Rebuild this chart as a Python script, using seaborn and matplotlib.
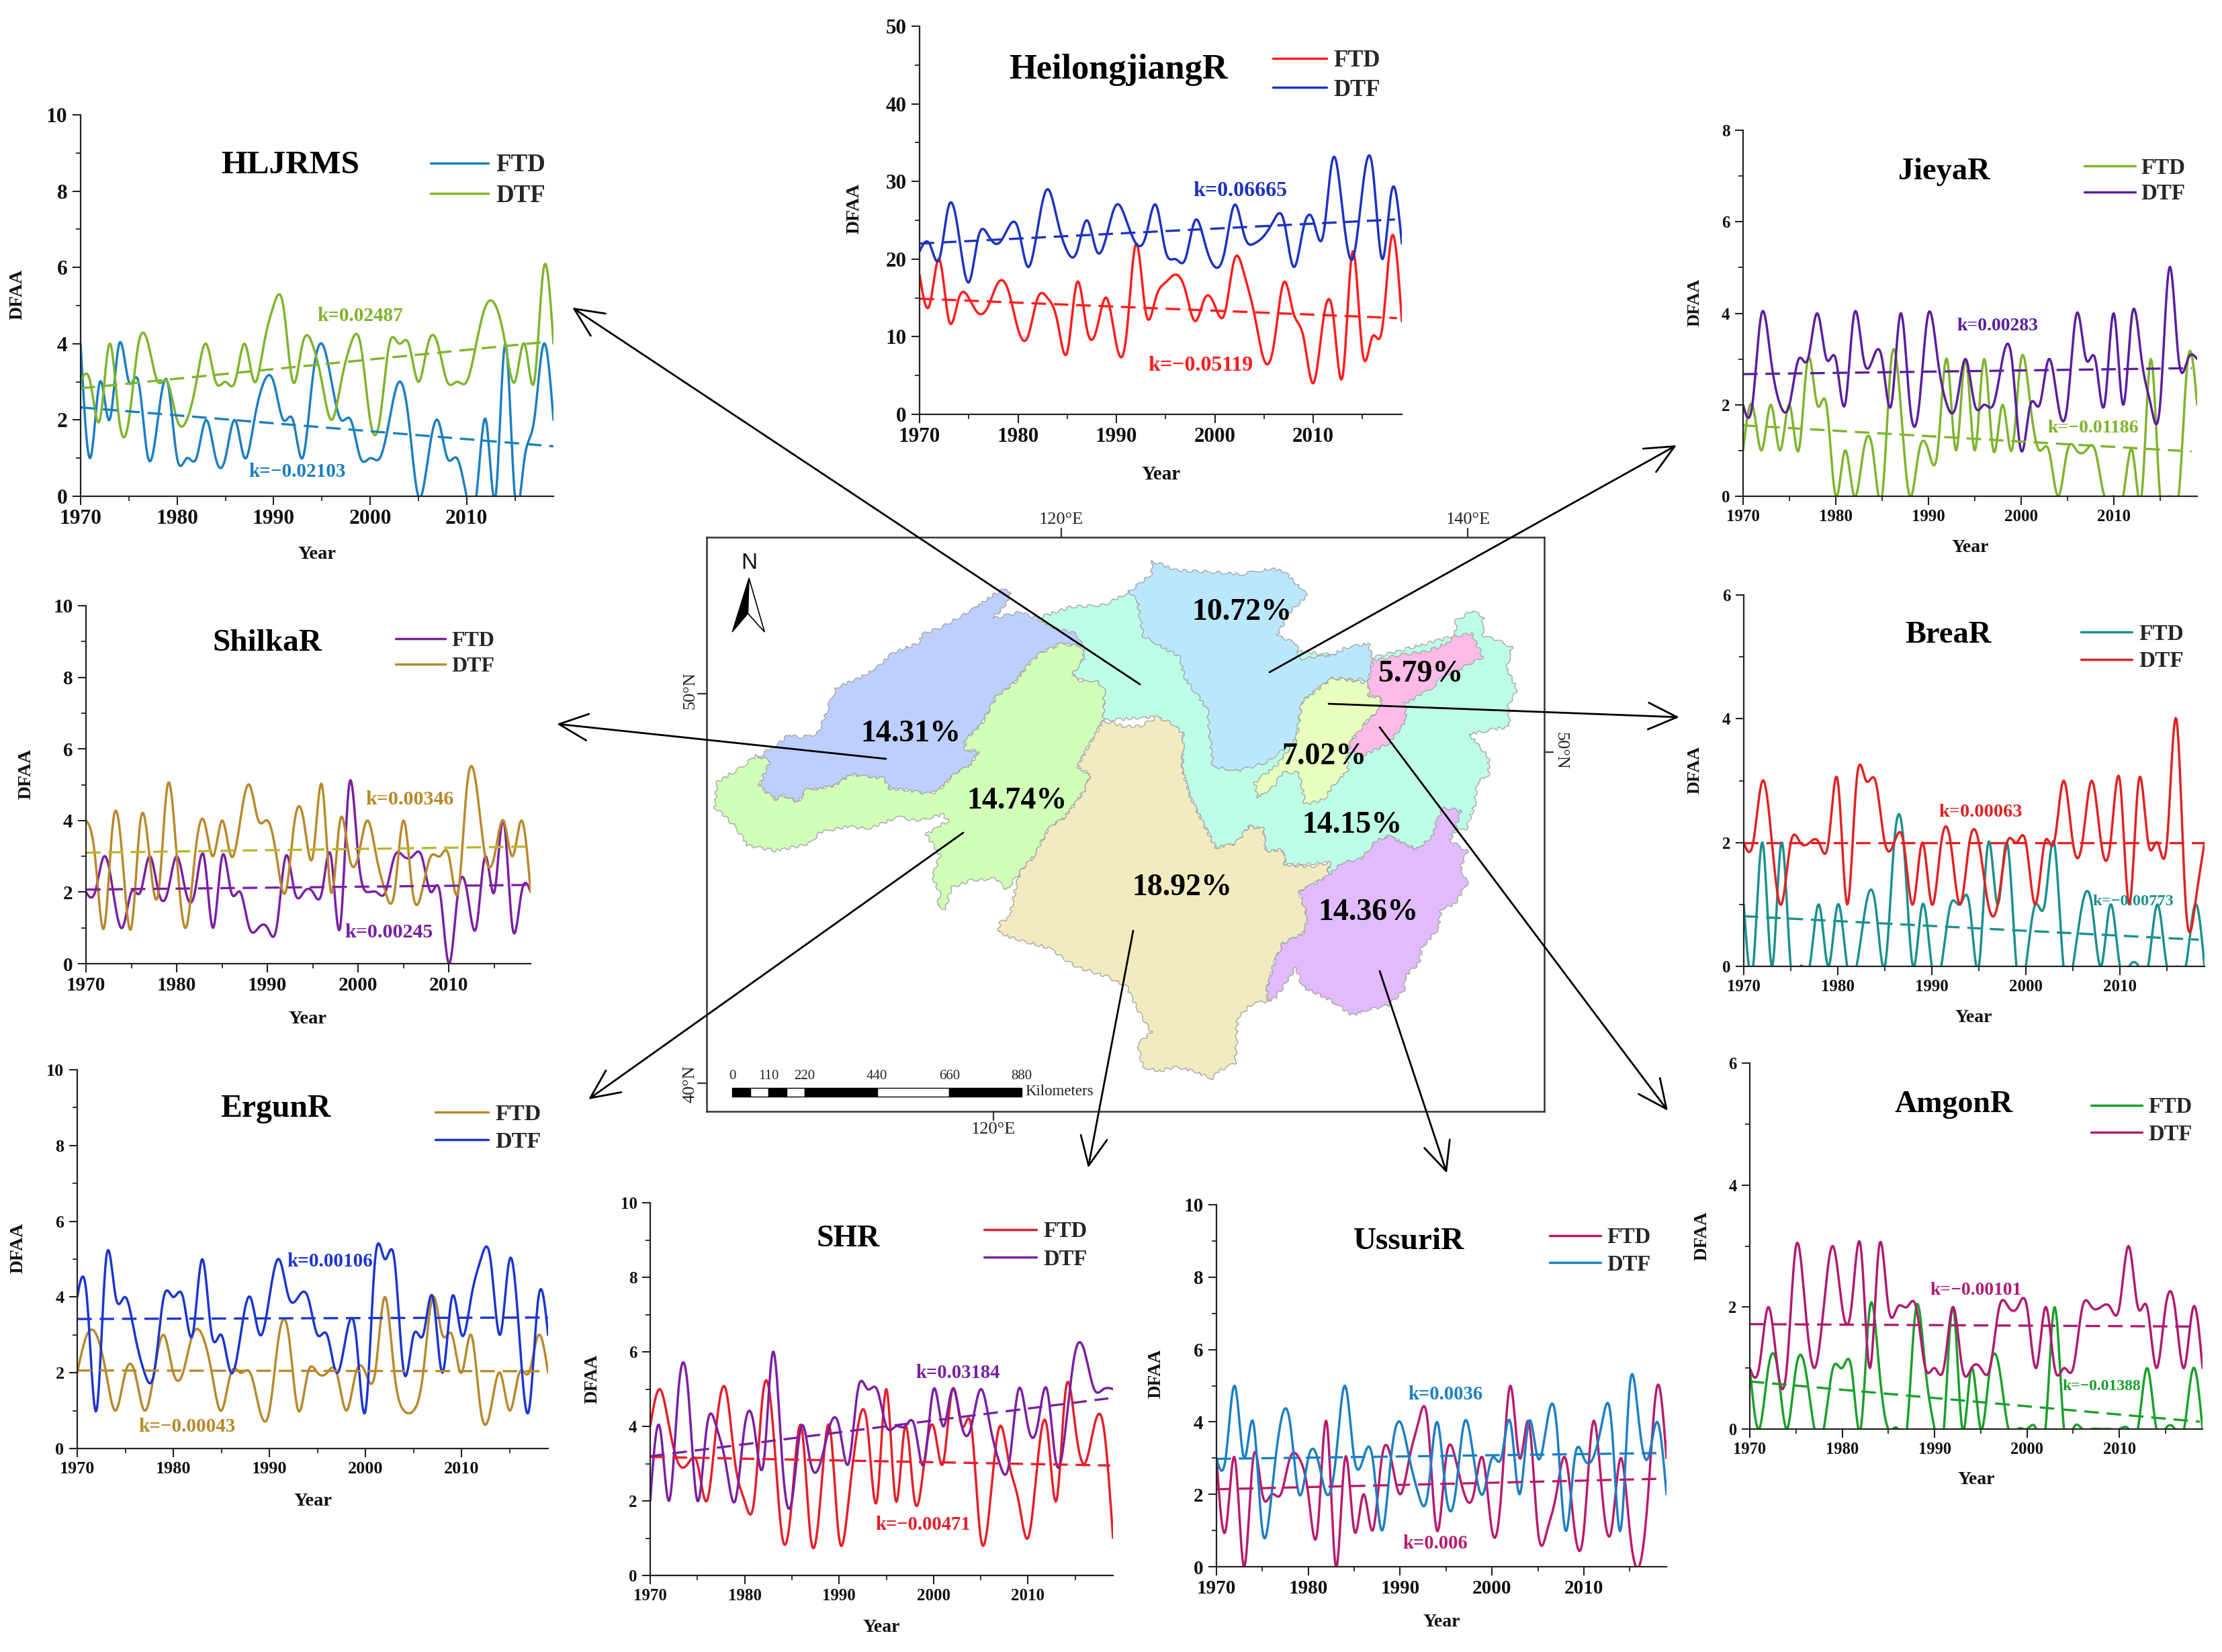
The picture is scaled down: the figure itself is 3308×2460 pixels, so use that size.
import numpy as np
import pandas as pd
import matplotlib
matplotlib.use('Agg')
import matplotlib.pyplot as plt
from matplotlib.ticker import MultipleLocator
import seaborn as sns

sns.set_theme(style="ticks")
plt.rcParams['font.family'] = ['Liberation Serif', 'DejaVu Sans']
plt.rcParams['mathtext.default'] = 'regular'

W, H = 3308, 2460
years = list(range(1970, 2020))

# annual DFAA values
hljrms_ftd = [4,1,3,2,4,3,3,1,2,3,1,1,1,2,1,1,2,1,2,3,3,2,2,1,3,4,3,2,2,1,1,1,2,3,2,0,1,2,1,1,0,0,2,0,4,0,1,2,4,2]
hljrms_dtf = [3,3,2,4,2,2,4,4,3,3,2,2,3,4,3,3,3,4,3,4,5,5,3,4,4,3,2,3,4,4,2,2,4,4,4,3,4,4,3,3,3,4,5,5,4,3,4,3,6,4]
heilong_ftd = [18,14,20,12,15,15,13,14,17,16,11,10,15,15,12,8,17,11,11,15,9,10,22,13,15,17,18,16,12,15,14,13,20,18,13,7,9,17,13,10,4,12,13,5,21,8,10,11,23,12]
heilong_dtf = [21,22,20,27,23,17,23,23,22,24,24,19,24,29,25,21,21,25,21,23,27,25,22,23,27,21,20,20,25,22,19,21,27,23,22,23,25,25,19,24,25,23,33,26,20,29,32,20,29,22]
jieya_ftd = [1,2,1,2,1,2,1,3,2,2,0,1,0,1,1,0,3,2,0,1,1,1,3,1,3,1,3,1,2,1,3,2,1,1,0,1,1,1,1,0,0,0,1,0,3,0,0,0,3,2]
jieya_dtf = [2,2,4,3,2,2,3,3,4,3,3,2,4,3,3,3,2,4,2,2,4,3,2,2,3,2,2,2,3,3,1,2,2,3,2,2,4,3,3,2,4,2,4,3,2,2,5,3,3,3]
brea_ftd = [1,0,2,0,2,0,0,0,1,0,1,0,0,1,1,0,2,2,0,1,0,0,1,1,1,0,2,1,2,0,0,1,1,2,0,0,1,1,0,1,0,0,0,0,1,0,0,0,1,0]
brea_dtf = [2,2,3,2,1,2,2,2,2,2,3,1,3,3,3,2,2,2,1,2,1,2,2,1,2,2,1,1,2,2,2,1,2,2,3,2,2,3,2,2,3,1,3,2,2,2,4,1,1,2]
shilka_ftd = [2,2,3,2,1,2,2,3,2,2,3,2,2,3,1,3,2,2,1,1,1,1,3,2,2,2,2,3,1,5,3,2,2,2,3,3,3,3,2,2,0,2,2,1,3,2,4,1,2,2]
shilka_dtf = [4,3,1,4,3,1,4,3,2,5,3,1,3,4,3,4,3,4,5,4,4,3,2,4,4,3,5,2,4,3,3,4,3,2,2,4,2,2,3,3,3,2,5,5,3,3,4,3,4,2]
ergun_ftd = [2,3,3,2,1,2,2,1,2,3,2,2,3,3,2,1,2,2,2,1,1,3,3,1,2,2,2,2,1,2,2,2,4,2,1,1,2,4,3,3,2,3,1,1,2,1,2,2,3,2]
ergun_dtf = [4,4,1,5,4,4,3,2,2,4,4,4,3,5,3,3,2,3,4,3,4,5,4,4,4,3,3,2,3,3,1,5,5,5,2,3,3,4,2,4,3,4,5,5,3,5,3,1,4,3]
shr_ftd = [4,5,4,3,3,3,2,4,5,3,2,2,5,4,1,2,4,1,2,4,1,2,4,4,2,5,2,4,2,3,4,3,5,4,4,1,2,4,3,2,1,3,4,2,5,4,3,4,4,1]
shr_dtf = [2,4,2,5,5,2,4,4,3,2,4,4,3,6,3,2,4,3,3,4,4,3,5,5,5,4,4,4,4,3,5,4,5,4,4,5,4,3,3,5,4,4,5,3,4,6,6,5,5,5]
ussuri_ftd = [3,1,3,0,3,2,2,2,3,3,2,1,4,0,3,1,2,1,3,3,2,3,4,4,1,3,3,2,2,3,1,2,5,3,4,1,1,2,3,1,1,4,2,1,3,1,0,2,5,3]
ussuri_dtf = [3,3,5,3,4,1,2,4,4,2,3,3,2,3,5,3,3,3,1,3,4,3,2,2,4,2,2,4,3,2,3,3,4,2,4,3,4,4,1,3,3,3,4,4,1,5,4,3,4,2]
amgon_ftd = [1,0,1,1,0,1,1,0,0,1,1,1,0,2,1,0,0,0,2,1,0,0,2,0,1,0,1,1,0,0,0,0,0,2,0,0,0,0,0,0,0,0,0,1,0,0,0,0,1,0]
amgon_dtf = [1,1,2,1,1,3,2,1,2,3,2,2,3,1,3,2,2,2,2,1,1,1,2,1,1,1,1,2,2,2,2,1,2,1,1,1,2,2,2,2,2,3,2,2,1,2,2,1,2,1]

# fitted trend lines: value at start and at end of the fit
hljrms_trend = [[2.33, 1.31], [2.83, 4.05]]
heilong_trend = [[14.9, 12.4], [22.0, 25.1]]
jieya_trend = [[1.55, 0.98], [2.67, 2.80]]
brea_trend = [[0.81, 0.43], [2.00, 2.00]]
shilka_trend = [[2.07, 2.20], [3.10, 3.27]]
ergun_trend = [[2.06, 2.04], [3.42, 3.46]]
shr_trend = [[3.18, 2.95], [3.20, 4.75]]
ussuri_trend = [[2.14, 2.43], [2.98, 3.14]]
amgon_trend = [[0.78, 0.12], [1.72, 1.68]]

# basin outlines in map units
teal_basin = [(618,245),(680,215),(740,210),(785,175),(900,300),(1215,350),(1370,290),(1372,250),(1400,225),(1420,240),(1420,290),(1445,300),(1472,320),(1462,375),(1482,430),(1465,470),(1468,525),(1395,545),(1430,605),(1430,650),(1410,670),(1405,730),(1390,790),(1365,800),(1300,845),(1250,810),(1200,870),(1140,915),(1145,880),(1065,885),(1060,845),(1030,850),(1025,790),(1000,785),(975,830),(940,840),(915,770),(895,710),(880,640),(882,545),(835,500),(738,510),(740,430),(680,390),(705,340),(700,315),(620,275)]
blue_basin = [(825,95),(870,120),(940,125),(990,130),(1040,115),(1065,125),(1085,155),(1105,185),(1075,225),(1050,290),(1085,310),(1090,350),(1150,340),(1175,320),(1215,310),(1222,355),(1215,405),(1150,400),(1095,460),(1085,560),(1030,620),(980,640),(935,630),(925,480),(885,400),(875,345),(810,290),(800,200),(785,175),(825,130)]
periwinkle_basin = [(118,605),(155,570),(175,545),(190,555),(225,545),(235,510),(258,425),(300,400),(330,375),(360,335),(405,310),(415,285),(445,270),(500,225),(530,195),(555,170),(572,175),(565,205),(540,245),(590,228),(620,245),(650,270),(690,285),(700,315),(660,312),(625,335),(600,370),(580,410),(545,450),(520,520),(490,560),(490,585),(515,590),(500,625),(470,650),(440,695),(420,700),(385,690),(355,688),(345,660),(310,655),(285,650),(255,680),(205,690),(190,722),(165,705),(150,715),(120,680),(135,620)]
green_basin = [(115,600),(140,615),(120,680),(150,715),(165,705),(190,722),(205,690),(255,680),(285,650),(310,655),(345,660),(355,688),(385,690),(420,700),(440,695),(470,650),(500,625),(515,590),(490,585),(490,560),(520,520),(545,450),(580,410),(600,370),(625,335),(660,312),(695,315),(705,345),(682,392),(700,410),(725,405),(740,430),(738,510),(712,575),(692,630),(715,650),(705,690),(670,760),(640,790),(615,860),(590,900),(565,950),(545,920),(500,925),(465,945),(455,1000),(440,990),(445,960),(432,915),(445,860),(420,805),(460,770),(450,755),(400,770),(370,760),(320,790),(280,785),(230,800),(210,830),(150,848),(100,835),(80,790),(60,760),(40,735),(45,670),(90,630)]
tan_basin = [(738,510),(775,525),(805,525),(835,500),(865,520),(882,545),(880,640),(895,710),(915,770),(940,840),(975,830),(1000,785),(1025,790),(1030,850),(1060,845),(1065,885),(1110,890),(1145,878),(1140,915),(1090,955),(1105,1020),(1100,1060),(1060,1090),(1045,1140),(1032,1210),(1035,1240),(1010,1240),(980,1280),(975,1400),(945,1420),(935,1440),(900,1420),(870,1410),(840,1420),(810,1410),(800,1350),(825,1320),(800,1260),(780,1200),(745,1175),(690,1150),(640,1100),(575,1075),(550,1060),(552,1035),(570,1020),(580,950),(590,900),(615,860),(640,790),(670,760),(705,690),(715,650),(692,630),(712,575)]
purple_basin = [(1350,735),(1380,745),(1370,795),(1360,820),(1392,850),(1380,890),(1392,935),(1370,985),(1345,1000),(1340,1050),(1310,1100),(1305,1140),(1280,1175),(1278,1210),(1250,1250),(1215,1260),(1185,1275),(1150,1240),(1095,1200),(1085,1150),(1050,1225),(1035,1240),(1032,1210),(1045,1140),(1060,1090),(1100,1060),(1105,1020),(1090,955),(1140,915),(1165,880),(1200,870),(1230,820),(1250,810),(1300,845),(1330,810),(1340,760)]
yellow_basin = [(1150,400),(1215,412),(1215,445),(1238,450),(1235,480),(1210,515),(1185,560),(1175,600),(1178,640),(1150,680),(1135,715),(1100,728),(1095,680),(1090,645),(1060,645),(1045,680),(1015,710),(1010,670),(1050,625),(1085,560),(1095,460)]
pink_basin = [(1370,290),(1400,285),(1420,345),(1380,375),(1345,400),(1325,430),(1280,465),(1282,510),(1250,570),(1205,600),(1178,590),(1185,560),(1210,515),(1235,480),(1238,450),(1215,445),(1215,405),(1222,355),(1270,340),(1320,330),(1355,310)]

basin_shares = ['10.72%', '5.79%', '14.31%', '7.02%', '14.74%', '14.15%', '18.92%', '14.36%']
scale_ticks = [0, 110, 220, 440, 660, 880]


def spline(xs, ys, n=12):
    # natural cubic spline, same look as the Origin "spline" line
    xs = np.asarray(xs, float)
    ys = np.asarray(ys, float)
    m = len(xs)
    A = np.zeros((m, m))
    b = np.zeros(m)
    A[0, 0] = A[-1, -1] = 1
    for i in range(1, m - 1):
        A[i, i - 1:i + 2] = [1, 4, 1]
        b[i] = 6 * (ys[i - 1] - 2 * ys[i] + ys[i + 1])
    d = np.linalg.solve(A, b)
    xx = np.linspace(xs[0], xs[-1], (m - 1) * n + 1)
    i = np.minimum((xx - xs[0]).astype(int), m - 2)
    t = xx - xs[i]
    u = 1 - t
    yy = u * ys[i] + t * ys[i + 1] + ((u**3 - u) * d[i] + (t**3 - t) * d[i + 1]) / 6
    return pd.DataFrame({'year': xx, 'dfaa': yy})


BOLD = dict(fontweight='bold')

fig = plt.figure(figsize=(W / 100, H / 100), dpi=100, facecolor='white')


def fx(px):
    return px / W


def fy(py):
    return 1 - py / H


panels = [
    # name, ftd, dtf, trend, colours, ymax, major, box(l,r,t,b)
    dict(name='HLJRMS', ftd=hljrms_ftd, dtf=hljrms_dtf, trend=hljrms_trend, c=('#1B7FC0', '#7DB52C'), tc=None, trend_end=(2019, 2018.4),
         ymax=10, major=2, minor=1, box=(120, 824, 171, 739), tick=22.7, title=(432, 246, 35.6), leg=(641, 86, 738, 245, 292, 26.6),
         k_dtf=('k=0.02487', 536, 470, 21), k_ftd=('k=\u22120.02103', 442, 702, 21), yl=(26, 438, 20), xl=(472, 825, 20.5)),
    dict(name='HeilongjiangR', ftd=heilong_ftd, dtf=heilong_dtf, trend=heilong_trend, c=('#FF1C1C', '#1C33C0'), tc=None, trend_end=(2018.5, 2018.3),
         ymax=50, major=10, minor=5, box=(1369, 2087, 39, 617), tick=22.4, title=(1665, 104, 37.7), leg=(1895, 80, 1985, 90, 135, 25),
         k_dtf=('k=0.06665', 1846, 285, 23), k_ftd=('k=\u22120.05119', 1787, 544, 23), yl=(1272, 310, 20), xl=(1729, 706, 21)),
    dict(name='JieyaR', ftd=jieya_ftd, dtf=jieya_dtf, trend=jieya_trend, c=('#7DB52C', '#5B1E9E'), tc=None, trend_end=(2018.4, 2018.4),
         ymax=8, major=2, minor=1, box=(2595, 3271, 194, 739), tick=18, title=(2894, 256, 33.4), leg=(3103, 76, 3187, 249, 290, 23.8),
         k_dtf=('k=0.00283', 2974, 485, 20), k_ftd=('k=\u22120.01186', 3116, 637, 20), yl=(2523, 450, 19), xl=(2933, 815, 20)),
    dict(name='BreaR', ftd=brea_ftd, dtf=brea_dtf, trend=brea_trend, c=('#1B9090', '#E02222'), tc=None, trend_end=(2018.4, 2019),
         ymax=6, major=2, minor=1, box=(2596, 3282, 886, 1439), tick=18, title=(2900, 946, 33.5), leg=(3098, 76, 3184, 943, 986, 24),
         k_dtf=('k=0.00063', 2949, 1209, 20.4), k_ftd=('k=\u22120.00773', 3176, 1343, 17.6), yl=(2523, 1146, 19), xl=(2938, 1516, 20)),
    dict(name='ShilkaR', ftd=shilka_ftd, dtf=shilka_dtf, trend=shilka_trend, c=('#7B1FA2', '#B8892B'), tc=(None, '#BDB52E'), trend_end=(2019, 2018.6),
         ymax=10, major=2, minor=1, box=(128, 790, 902, 1435), tick=21, title=(398, 958, 34), leg=(589, 74, 672, 953, 994, 23),
         k_dtf=('k=0.00346', 610, 1190, 21.6), k_ftd=('k=0.00245', 579, 1389, 21.6), yl=(39, 1152, 20), xl=(458, 1517, 20.5)),
    dict(name='ErgunR', ftd=ergun_ftd, dtf=ergun_dtf, trend=ergun_trend, c=('#B8892B', '#1A35D0'), tc=None, trend_end=(2019, 2019),
         ymax=10, major=2, minor=1, box=(115, 816, 1593, 2157), tick=18.8, title=(410, 1651, 34.4), leg=(648, 79, 737, 1658, 1702, 24.7),
         k_dtf=('k=0.00106', 491, 1878, 21), k_ftd=('k=\u22120.00043', 278, 2125, 21), yl=(27, 1858, 20), xl=(466, 2235, 20.5)),
    dict(name='SHR', ftd=shr_ftd, dtf=shr_dtf, trend=shr_trend, c=('#E61E2A', '#7B1FA2'), tc=None, trend_end=(2018.7, 2018.5),
         ymax=10, major=2, minor=1, box=(968, 1657, 1791, 2346), tick=18, title=(1263, 1845, 33), leg=(1465, 78, 1553, 1833, 1876, 23.5),
         k_dtf=('k=0.03184', 1426, 2045, 20.6), k_ftd=('k=\u22120.00471', 1374, 2270, 20.6), yl=(882, 2053, 19.5), xl=(1312, 2423, 20)),
    dict(name='UssuriR', ftd=ussuri_ftd, dtf=ussuri_dtf, trend=ussuri_trend, c=('#B81B6E', '#1B7FC4'), tc=None, trend_end=(2018.4, 2018.4),
         ymax=10, major=2, minor=1, box=(1811, 2481, 1794, 2333), tick=21, title=(2097, 1849, 34), leg=(2307, 76, 2392, 1842, 1884, 23.5),
         k_dtf=('k=0.0036', 2152, 2076, 20.6), k_ftd=('k=0.006', 2137, 2299, 20.6), yl=(1721, 2045, 19.5), xl=(2146, 2416, 20)),
    dict(name='AmgonR', ftd=amgon_ftd, dtf=amgon_dtf, trend=amgon_trend, c=('#1AA02A', '#B01A72'), tc=None, trend_end=(2018.7, 2018.5),
         ymax=6, major=2, minor=1, box=(2605, 3279, 1583, 2128), tick=17.7, title=(2909, 1645, 33), leg=(3113, 76, 3198, 1648, 1690, 23.5),
         k_dtf=('k=\u22120.00101', 2942, 1922, 19.9), k_ftd=('k=\u22120.01388', 3129, 2065, 17), yl=(2534, 1840, 19.5), xl=(2942, 2203, 20)),
]

for p in panels:
    l, r, t, b = p['box']
    ax = fig.add_axes([fx(l), fy(b), fx(r - l), (b - t) / H])
    ftd_col, dtf_col = p['c']
    h1 = sns.lineplot(data=spline(years, p['ftd']), x='year', y='dfaa', ax=ax, color=ftd_col,
                      lw=2.5, estimator=None, sort=False, label='FTD')
    sns.lineplot(data=spline(years, p['dtf']), x='year', y='dfaa', ax=ax, color=dtf_col,
                 lw=2.5, estimator=None, sort=False, label='DTF')
    tcols = p['tc'] or (None, None)
    for vals, col, tc, end in zip(p['trend'], p['c'], tcols, p['trend_end']):
        sns.lineplot(x=[1970, end], y=vals, ax=ax, color=tc or col, lw=2.4,
                     linestyle=(0, (6.5, 3.5)), legend=False, errorbar=None)
    handles = ax.get_lines()[:2]

    ax.set_xlim(1970, 2019)
    ax.set_ylim(0, p['ymax'])
    ax.xaxis.set_major_locator(MultipleLocator(10))
    ax.xaxis.set_minor_locator(MultipleLocator(5))
    ax.yaxis.set_major_locator(MultipleLocator(p['major']))
    ax.yaxis.set_minor_locator(MultipleLocator(p['minor']))
    ax.tick_params(which='major', length=9, width=1.5, color='#222222', pad=5)
    ax.tick_params(which='minor', length=5, width=1.3, color='#222222')
    for lab in ax.get_xticklabels() + ax.get_yticklabels():
        lab.set_fontsize(p['tick'])
        lab.set_fontweight('bold')
        lab.set_color('#111111')
    sns.despine(ax=ax)
    ax.patch.set_alpha(0)
    for s in ['left', 'bottom']:
        ax.spines[s].set_linewidth(1.6)
        ax.spines[s].set_color('#222222')
    ax.set_xlabel('')
    ax.set_ylabel('')

    tx, ty, ts = p['title']
    fig.text(fx(tx), fy(ty), p['name'], ha='center', va='center', fontsize=ts, color='black', **BOLD)

    hx, hw, txt_x, r1, r2, ls = p['leg']
    em = ls * 100 / 72
    ax.legend(handles, ['FTD', 'DTF'], loc='center left', bbox_to_anchor=(fx(hx), fy((r1 + r2) / 2)),
              bbox_transform=fig.transFigure, frameon=False, borderpad=0, borderaxespad=0,
              handlelength=hw / em, handletextpad=(txt_x - hx - hw) / em,
              labelspacing=(r2 - r1 - em) / em, prop=dict(family='Liberation Serif', weight='bold', size=ls))

    for key, col in (('k_dtf', dtf_col), ('k_ftd', ftd_col)):
        txt, kx, ky, ks = p[key]
        fig.text(fx(kx), fy(ky), txt, ha='center', va='center', fontsize=ks, color=col, **BOLD)

    yx, yy, ys = p['yl']
    fig.text(fx(yx), fy(yy), 'DFAA', rotation=90, ha='center', va='center', fontsize=ys, color='#111111', **BOLD)
    xx, xy, xs = p['xl']
    fig.text(fx(xx), fy(xy), 'Year', ha='center', va='center', fontsize=xs, color='#111111', **BOLD)

# centre map
map_l, map_r, map_t, map_b = 1052, 2299, 800, 1655
mp = fig.add_axes([fx(map_l), fy(map_b), fx(map_r - map_l), (map_b - map_t) / H])
mp.set_xlim(26, 1530)
mp.set_ylim(1525, 34)
mp.set_xticks([])
mp.set_yticks([])
for s in mp.spines.values():
    s.set_linewidth(1.8)
    s.set_color('#333333')

basins = [(teal_basin, '#BDFFE6'), (blue_basin, '#BBE7FC'), (periwinkle_basin, '#BDCFFF'),
          (green_basin, '#D1FFB8'), (tan_basin, '#F2EBBF'), (purple_basin, '#E1BBFC'),
          (yellow_basin, '#E8FFBE'), (pink_basin, '#FFBBE8')]
for outline, col in basins:
    poly = mp.fill(*zip(*outline), facecolor=col, edgecolor='#A8A8A8', lw=1.0)[0]
    poly.set_sketch_params(scale=2.0, length=28, randomness=8)

share_pos = [(987, 230), (1308, 390), (393, 545), (1135, 604), (583, 720), (1185, 782), (880, 945), (1214, 1008)]
for share, (sx, sy) in zip(basin_shares, share_pos):
    mp.text(sx, sy, share, ha='center', va='center', fontsize=33, color='black', **BOLD)

# north arrow
mp.fill([102, 72, 100], [140, 280, 232], color='black', lw=1)
mp.fill([102, 130, 100], [140, 280, 232], facecolor='white', edgecolor='black', lw=1.2)
mp.text(102, 102, 'N', ha='center', va='center', fontsize=24, color='#111111', fontfamily='Liberation Sans')

# scale bar
km = 592 - 72
bar_x = lambda v: 72 + v / 880 * km
edges = [0, 55, 110, 165, 220, 440, 660, 880]
for i in range(len(edges) - 1):
    mp.broken_barh([(bar_x(edges[i]), bar_x(edges[i + 1]) - bar_x(edges[i]))], (1464, 22),
                   facecolor='black' if i % 2 == 0 else 'white', edgecolor='black', lw=1)
for v in scale_ticks:
    mp.text(bar_x(v), 1434, str(v), ha='center', va='center', fontsize=15, color='#222222')
mp.text(598, 1473, 'Kilometers', ha='left', va='center', fontsize=16.5, color='#222222')

# graticule ticks round the frame
over = fig.add_axes([0, 0, 1, 1], zorder=50)
over.set_xlim(0, W)
over.set_ylim(H, 0)
over.axis('off')
over.patch.set_alpha(0)
for (x0, y0, x1, y1) in [(1580, 800, 1580, 787), (2185, 800, 2185, 787), (1052, 1033, 1039, 1033),
                         (1052, 1613, 1039, 1613), (2299, 1120, 2312, 1120), (1479, 1655, 1479, 1668)]:
    over.plot([x0, x1], [y0, y1], color='#333333', lw=1.6)
grat = [('120\u00b0E', 1580, 774, 0), ('140\u00b0E', 2186, 774, 0), ('50\u00b0N', 1027, 1028, 90),
        ('40\u00b0N', 1027, 1614, 90), ('50\u00b0N', 2323, 1118, 270), ('120\u00b0E', 1479, 1682, 0)]
for txt, gx, gy, rot in grat:
    over.text(gx, gy, txt, ha='center', va='center', rotation=rot, fontsize=19, color='#222222')

# arrows from the basins to their panels
arrows = [((1697, 1019), (852, 458)), ((1890, 1001), (2496, 663)), ((1978, 1048), (2500, 1068)),
          ((2054, 1083), (2483, 1654)), ((2054, 1446), (2154, 1747)), ((1687, 1386), (1620, 1739)),
          ((1434, 1240), (876, 1637)), ((1319, 1130), (829, 1078))]
for tail, head in arrows:
    over.annotate('', xy=head, xytext=tail,
                  arrowprops=dict(arrowstyle='->,head_length=1.4,head_width=0.65', lw=2.0, color='black',
                                  shrinkA=0, shrinkB=0, mutation_scale=22))

fig.savefig('out.png', dpi=100, facecolor='white')
